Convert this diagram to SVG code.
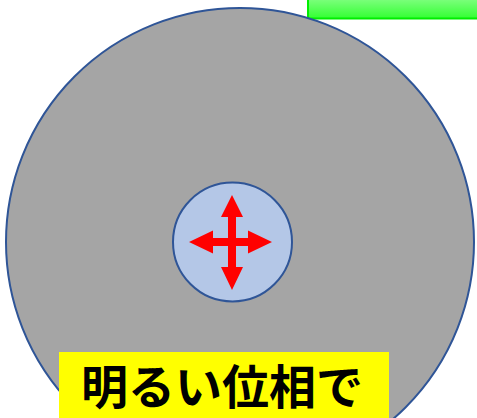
<svg xmlns="http://www.w3.org/2000/svg" width="477" height="418" viewBox="0 0 477 418">
<defs>
<linearGradient id="g" x1="0" y1="0" x2="0" y2="1">
<stop offset="0" stop-color="#8cff8c"/>
<stop offset="1" stop-color="#33ff33"/>
</linearGradient>
<style>
.ring{stroke:#2f5597;stroke-width:2}
.arrow{fill:#ff0000}
.lbl{font-family:"Noto Sans CJK JP","Noto Sans CJK SC",sans-serif;font-weight:bold;font-size:47px;fill:#000}
</style>
</defs>
<rect width="477" height="418" fill="#ffffff"/>
<g id="green-bar"><rect x="308" y="-5" width="175" height="23.5" fill="url(#g)" stroke="#00ee00" stroke-width="2"/></g>
<g id="outer"><circle cx="240" cy="242" r="234" fill="#a5a5a5" class="ring"/></g>
<g id="inner"><circle cx="232.5" cy="242" r="59.5" fill="#b4c7e7" class="ring"/></g>
<g id="arrows">
<path class="arrow" d="M232,195 L243,217 L236,217 L236,238 L248,238 L248,230.5 L272,242 L248,253.5 L248,246 L236,246 L236,267 L243,267 L232,290 L221,267 L228,267 L228,246 L213,246 L213,253.5 L189,242 L213,230.5 L213,238 L228,238 L228,217 L221,217 Z"/>
</g>
<g id="label">
<rect x="59" y="352" width="330" height="70" fill="#ffff00"/>
<text class="lbl" x="222" y="404" text-anchor="middle">明るい位相で</text>
</g>
</svg>
